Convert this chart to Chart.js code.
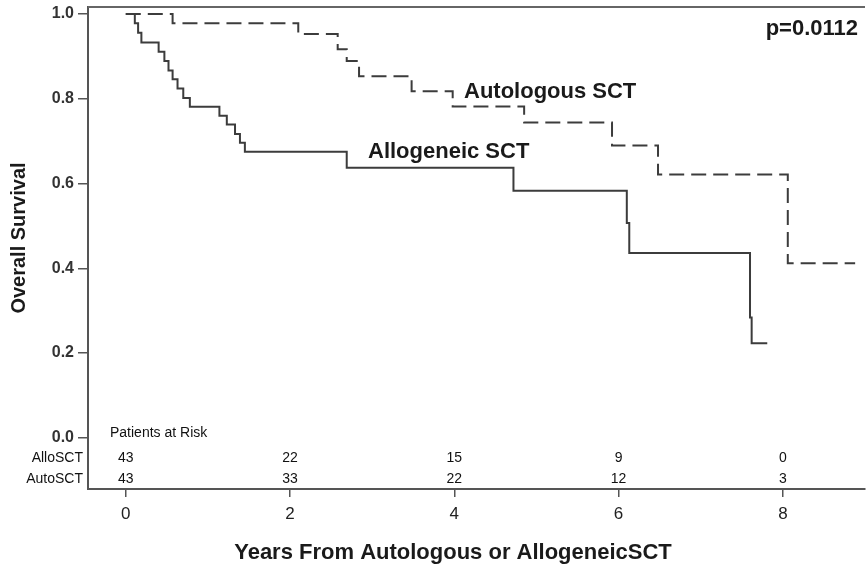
<!DOCTYPE html>
<html>
<head>
<meta charset="utf-8">
<script src="https://cdn.jsdelivr.net/npm/chart.js@4.4.1/dist/chart.umd.min.js"></script>
<style>
    html, body { margin: 0; padding: 0; background: #fff; }
    #wrap { width: 866px; height: 572px; }
</style>
</head>
<body>
<div id="wrap"><canvas id="km" width="866" height="572"></canvas></div>
<script>
    // Kaplan-Meier overall survival, AlloSCT vs AutoSCT
    var alloTime = [0, 0.11, 0.15, 0.19, 0.40, 0.47, 0.52, 0.57, 0.63, 0.70, 0.78, 1.14, 1.23, 1.33, 1.39, 1.45, 2.69, 4.72, 6.10, 6.13, 7.60, 7.62, 7.81];
    var alloSurv = [1.0, 0.978, 0.956, 0.933, 0.911, 0.889, 0.867, 0.846, 0.824, 0.802, 0.781, 0.760, 0.739, 0.717, 0.696, 0.675, 0.637, 0.583, 0.507, 0.436, 0.284, 0.223, 0.223];

    var autoTime = [0, 0.57, 2.10, 2.58, 2.69, 2.84, 3.48, 3.98, 4.85, 5.92, 6.48, 8.06, 8.88];
    var autoSurv = [1.0, 0.978, 0.953, 0.917, 0.889, 0.853, 0.818, 0.782, 0.744, 0.690, 0.621, 0.412, 0.412];

    var xTicks = [0, 2, 4, 6, 8];
    var yTicks = [0, 0.2, 0.4, 0.6, 0.8, 1.0];

    var riskYears = [0, 2, 4, 6, 8];
    var alloRisk = [43, 22, 15, 9, 0];
    var autoRisk = [43, 33, 22, 12, 3];

    var FONT = "'Liberation Sans', Arial, Helvetica, sans-serif";
    var LINE = '#3c3c3c';
    var AXIS = '#555';

    function toPoints(xs, ys) {
        return xs.map(function (x, i) { return { x: x, y: ys[i] }; });
    }

    // text that Chart.js has no slot for: titles, curve labels, p value, risk table
    var annotations = {
        id: 'annotations',
        afterDraw: function (chart) {
            var ctx = chart.ctx;
            var area = chart.chartArea;
            var xs = chart.scales.x;

            ctx.save();
            // top frame line
            ctx.strokeStyle = '#666';
            ctx.lineWidth = 2;
            ctx.beginPath();
            ctx.moveTo(area.left, area.top);
            ctx.lineTo(area.right, area.top);
            ctx.stroke();

            ctx.fillStyle = '#1a1a1a';
            ctx.font = 'bold 22px ' + FONT;
            ctx.textBaseline = 'alphabetic';
            ctx.textAlign = 'left';
            ctx.fillText('Autologous SCT', 464, 98);
            ctx.fillText('Allogeneic SCT', 368, 158);
            ctx.textAlign = 'right';
            ctx.fillText('p=0.0112', 858, 35);

            // axis titles
            ctx.textAlign = 'center';
            ctx.textBaseline = 'middle';
            ctx.fillText('Years From Autologous or AllogeneicSCT', 453, 553);
            ctx.save();
            ctx.translate(19, 238);
            ctx.rotate(-Math.PI / 2);
            ctx.font = 'bold 20px ' + FONT;
            ctx.fillText('Overall Survival', 0, 0);
            ctx.restore();

            // patients at risk table
            ctx.font = '14px ' + FONT;
            ctx.fillStyle = '#111';
            ctx.textAlign = 'left';
            ctx.fillText('Patients at Risk', 110, 433);
            ctx.textAlign = 'right';
            ctx.fillText('AlloSCT', 83, 458);
            ctx.fillText('AutoSCT', 83, 479);
            ctx.textAlign = 'center';
            riskYears.forEach(function (yr, i) {
                var px = xs.getPixelForValue(yr);
                ctx.fillText(String(alloRisk[i]), px, 458);
                ctx.fillText(String(autoRisk[i]), px, 479);
            });
            ctx.restore();
        }
    };

    new Chart(document.getElementById('km').getContext('2d'), {
        type: 'line',
        data: {
            datasets: [{
                label: 'Allogeneic SCT',
                data: toPoints(alloTime, alloSurv),
                borderColor: LINE,
                borderWidth: 2,
                stepped: true,
                pointRadius: 0,
                fill: false
            }, {
                label: 'Autologous SCT',
                data: toPoints(autoTime, autoSurv),
                borderColor: LINE,
                borderWidth: 2,
                borderDash: [15, 7],
                stepped: true,
                pointRadius: 0,
                fill: false
            }]
        },
        options: {
            responsive: false,
            devicePixelRatio: 1,
            animation: false,
            layout: { padding: { top: 7, right: 1, left: 0, bottom: 0 } },
            plugins: {
                legend: { display: false },
                tooltip: { enabled: false }
            },
            scales: {
                x: {
                    type: 'linear',
                    min: -0.46,
                    max: 9.0,
                    afterBuildTicks: function (s) { s.ticks = xTicks.map(function (v) { return { value: v }; }); },
                    afterFit: function (s) { s.height = 83; s.paddingLeft = 0; s.paddingRight = 0; },
                    border: { display: true, color: AXIS, width: 2 },
                    grid: { display: true, drawOnChartArea: false, drawTicks: true, tickLength: 8, color: AXIS, lineWidth: 1.5 },
                    ticks: {
                        color: '#222',
                        font: { family: FONT, size: 17 },
                        padding: 7,
                        maxRotation: 0,
                        callback: function (v) { return String(v); }
                    }
                },
                y: {
                    type: 'linear',
                    min: -0.121,
                    max: 1.0166,
                    afterBuildTicks: function (s) { s.ticks = yTicks.map(function (v) { return { value: v }; }); },
                    afterFit: function (s) { s.width = 88; s.paddingTop = 0; s.paddingBottom = 0; },
                    border: { display: true, color: AXIS, width: 2 },
                    grid: { display: true, drawOnChartArea: false, drawTicks: true, tickLength: 10, color: AXIS, lineWidth: 1.5 },
                    ticks: {
                        color: '#333',
                        font: { family: FONT, size: 16, weight: 'bold' },
                        padding: 4,
                        callback: function (v) { return Number(v).toFixed(1); }
                    }
                }
            }
        },
        plugins: [annotations]
    });
</script>
</body>
</html>
